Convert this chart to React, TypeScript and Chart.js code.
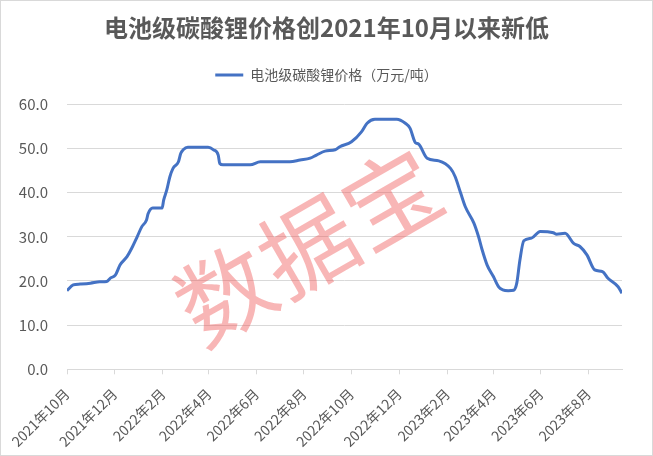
import React, { useEffect, useRef } from "react";
import { Chart, registerables } from "chart.js";
Chart.register(...registerables);

const titleText = "电池级碳酸锂价格创2021年10月以来新低";
const seriesName = "电池级碳酸锂价格（万元/吨）";
const watermarkText = "数据宝";

const startDate = "2021-10-01";
const endDate = "2023-09-13";

const dates = [
  "2021-10-01", "2021-10-09", "2021-10-18", "2021-10-31", "2021-11-12", "2021-11-21", "2021-11-26",
  "2021-12-02", "2021-12-08", "2021-12-17", "2021-12-23", "2021-12-30", "2022-01-05", "2022-01-11",
  "2022-01-13", "2022-01-19", "2022-01-31", "2022-02-02", "2022-02-06", "2022-02-10", "2022-02-14",
  "2022-02-21", "2022-02-24", "2022-02-27", "2022-03-05", "2022-03-31", "2022-04-07", "2022-04-13",
  "2022-04-15", "2022-04-19", "2022-05-24", "2022-06-06", "2022-07-14", "2022-07-27", "2022-08-09",
  "2022-08-17", "2022-08-28", "2022-09-10", "2022-09-16", "2022-10-01", "2022-10-14", "2022-10-21",
  "2022-10-31", "2022-11-28", "2022-12-09", "2022-12-15", "2022-12-22", "2022-12-26", "2023-01-06",
  "2023-01-21", "2023-02-05", "2023-02-11", "2023-02-18", "2023-02-24", "2023-03-07", "2023-03-13",
  "2023-03-17", "2023-03-24", "2023-04-01", "2023-04-08", "2023-04-13", "2023-04-20", "2023-04-27",
  "2023-05-01", "2023-05-05", "2023-05-10", "2023-05-20", "2023-05-31", "2023-06-17", "2023-06-21",
  "2023-07-02", "2023-07-13", "2023-07-21", "2023-07-30", "2023-08-09", "2023-08-19", "2023-08-26",
  "2023-09-08", "2023-09-13",
];

const prices = [
  17.8, 19.1, 19.3, 19.5, 19.8, 19.9, 20.7,
  21.3, 23.6, 25.5, 27.4, 30.0, 32.3, 33.8,
  35.2, 36.5, 36.5, 38.3, 40.6, 43.6, 45.5,
  47.0, 48.9, 49.7, 50.3, 50.3, 49.7, 48.5,
  46.6, 46.3, 46.3, 47.0, 47.0, 47.4, 47.8,
  48.5, 49.4, 49.7, 50.4, 51.5, 53.8, 55.7,
  56.6, 56.6, 55.7, 54.6, 51.3, 51.0, 47.8,
  47.2, 45.5, 43.6, 39.9, 36.8, 33.1, 30.0,
  27.4, 23.6, 21.0, 18.6, 18.0, 17.8, 17.9,
  19.5, 24.7, 29.1, 29.7, 31.2, 30.9, 30.6,
  30.8, 28.5, 27.8, 25.9, 22.5, 22.1, 20.6,
  18.7, 17.2,
];

const tickDates = [
  "2021-10-01", "2021-12-01", "2022-02-01", "2022-04-01", "2022-06-01", "2022-08-01",
  "2022-10-01", "2022-12-01", "2023-02-01", "2023-04-01", "2023-06-01", "2023-08-01",
];
const tickLabels = [
  "2021年10月", "2021年12月", "2022年2月", "2022年4月", "2022年6月", "2022年8月",
  "2022年10月", "2022年12月", "2023年2月", "2023年4月", "2023年6月", "2023年8月",
];

const yMin = 0;
const yMax = 60;
const yStep = 10;

const dayOf = (s: string) => (Date.parse(s) - Date.parse(startDate)) / 86400000;

const FONT = '"Noto Sans CJK SC", "Noto Sans", sans-serif';
const TEXT = "#595959";
const GRID = "#D9D9D9";

export default function App() {
  const ref = useRef<HTMLCanvasElement | null>(null);

  useEffect(() => {
    if (!ref.current) return;
    const tickDays = tickDates.map(dayOf);

    const framePlugin = {
      id: "frame",
      beforeDraw(chart: any) {
        const ctx = chart.ctx;
        ctx.save();
        ctx.fillStyle = "#ffffff";
        ctx.fillRect(0, 0, chart.width, chart.height);
        ctx.restore();
      },
      afterDraw(chart: any) {
        const ctx = chart.ctx;
        ctx.save();
        ctx.strokeStyle = GRID;
        ctx.lineWidth = 1;
        ctx.strokeRect(0.5, 0.5, chart.width - 1, chart.height - 1);
        ctx.restore();
      },
    };

    const watermarkPlugin = {
      id: "watermark",
      afterDatasetsDraw(chart: any) {
        const ctx = chart.ctx;
        ctx.save();
        ctx.translate(308, 246);
        ctx.rotate((-30 * Math.PI) / 180);
        ctx.fillStyle = "rgba(238, 80, 80, 0.42)";
        ctx.font = `95px ${FONT}`;
        ctx.textAlign = "center";
        ctx.textBaseline = "middle";
        const chars = Array.from(watermarkText);
        const adv = 96;
        chars.forEach((c, i) => {
          ctx.fillText(c, (i - (chars.length - 1) / 2) * adv, 0);
        });
        ctx.restore();
      },
    };

    const chart = new Chart(ref.current, {
      type: "line",
      data: {
        datasets: [
          {
            label: seriesName,
            data: dates.map((d, i) => ({ x: dayOf(d), y: prices[i] })),
            borderColor: "#4472C4",
            backgroundColor: "#4472C4",
            borderWidth: 3,
            pointRadius: 0,
            pointStyle: "line",
            cubicInterpolationMode: "monotone",
            fill: false,
          },
        ],
      },
      options: {
        animation: false,
        responsive: false,
        devicePixelRatio: 1,
        layout: { padding: 0 },
        plugins: {
          title: {
            display: true,
            text: titleText,
            color: TEXT,
            font: { family: FONT, size: 24, weight: "bold" },
            padding: { top: 13.6, bottom: 12.3 },
          },
          legend: {
            display: true,
            labels: {
              color: TEXT,
              font: { family: FONT, size: 14 },
              usePointStyle: true,
              pointStyle: "line",
              pointStyleWidth: 28,
              padding: 13.3,
            },
          },
          tooltip: { enabled: false },
        },
        scales: {
          x: {
            type: "linear",
            min: 0,
            max: dayOf(endDate),
            afterBuildTicks: (scale: any) => {
              scale.ticks = tickDays.map((v) => ({ value: v }));
            },
            afterFit: (scale: any) => {
              scale.height = 456 - 369.3;
            },
            ticks: {
              autoSkip: false,
              maxRotation: 45,
              minRotation: 45,
              color: TEXT,
              font: { family: FONT, size: 14 },
              padding: 11,
              callback: (v: any) => {
                const idx = tickDays.indexOf(Number(v));
                return idx >= 0 ? tickLabels[idx] : "";
              },
            },
            grid: {
              drawOnChartArea: false,
              drawTicks: true,
              tickLength: 5,
              color: GRID,
            },
            border: { display: true, color: GRID, width: 1 },
          },
          xTopSpace: {
            type: "linear",
            position: "top",
            display: true,
            afterFit: (scale: any) => {
              scale.height = 12.3;
            },
            ticks: { display: false },
            grid: { display: false, drawTicks: false },
            border: { display: false },
          },
          y: {
            min: yMin,
            max: yMax,
            afterFit: (scale: any) => {
              scale.width = 67;
            },
            ticks: {
              stepSize: yStep,
              color: TEXT,
              font: { family: FONT, size: 15 },
              padding: 19,
              callback: (v: any) => Number(v).toFixed(1),
            },
            grid: { color: GRID, drawTicks: false },
            border: { display: false },
          },
          yRightSpace: {
            type: "linear",
            position: "right",
            display: true,
            afterFit: (scale: any) => {
              scale.width = 31;
            },
            ticks: { display: false },
            grid: { display: false, drawTicks: false },
            border: { display: false },
          },
        },
      },
      plugins: [framePlugin, watermarkPlugin],
    } as any);

    return () => chart.destroy();
  }, []);

  return (
    <div style={{ position: "fixed", left: 0, top: 0, width: 653, height: 456 }}>
      <canvas ref={ref} width={653} height={456} style={{ display: "block" }} />
    </div>
  );
}
